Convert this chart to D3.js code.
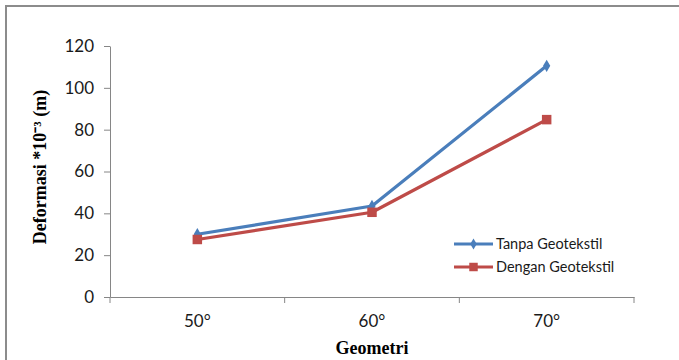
<!DOCTYPE html>
<html>
<head>
<meta charset="utf-8">
<script src="https://cdn.jsdelivr.net/npm/d3@7/dist/d3.min.js"></script>
<style>
  html, body { margin: 0; padding: 0; background: #fff; }
  svg { display: block; }
</style>
</head>
<body>
<svg id="chart" width="679" height="360"></svg>
<script>
// Deformation versus slope geometry, with and without geotextile
const categories = ["50°", "60°", "70°"];
const tanpaGeotekstil = [30, 43.5, 110.5];
const denganGeotekstil = [27.5, 40.5, 84.8];
const yTicks = [0, 20, 40, 60, 80, 100, 120];
const seriesNames = ["Tanpa Geotekstil", "Dengan Geotekstil"];
const seriesColors = ["#4a7ebb", "#be4b48"];

const svg = d3.select("#chart");
const W = 679, H = 360;
const plot = { left: 110, right: 634, top: 46, bottom: 297 };

// outer frame (top and left edges)
svg.append("path")
  .attr("d", `M6,${H} L6,6 L${W},6`)
  .attr("fill", "none")
  .attr("stroke", "#8c8c8c")
  .attr("stroke-width", 2);

const x = d3.scaleBand().domain(categories).range([plot.left, plot.right]).padding(0);
const y = d3.scaleLinear().domain([0, 120]).range([plot.bottom, plot.top]);
const cx = c => x(c) + x.bandwidth() / 2;

const axisColor = "#868686";
const tickFont = "Lato, 'Open Sans', sans-serif";

// y axis
const yAxis = svg.append("g")
  .attr("transform", `translate(${plot.left},0)`)
  .call(d3.axisLeft(y).tickValues(yTicks).tickSize(6).tickSizeOuter(0).tickPadding(10));
yAxis.select(".domain").attr("stroke", axisColor);
yAxis.selectAll(".tick line").attr("stroke", axisColor);
yAxis.selectAll(".tick text")
  .attr("font-family", tickFont).attr("font-size", 17).attr("fill", "#1a1a1a");

// x axis: labels centred in bands, tick marks at band edges
const xAxis = svg.append("g")
  .attr("transform", `translate(0,${plot.bottom})`)
  .call(d3.axisBottom(x).tickSize(0).tickSizeOuter(0).tickPadding(18));
xAxis.select(".domain").attr("stroke", axisColor);
xAxis.selectAll(".tick text")
  .attr("font-family", tickFont).attr("font-size", 17).attr("fill", "#1a1a1a");
const edges = d3.range(categories.length + 1).map(i => x.range()[0] + i * x.step());
xAxis.selectAll("line.edge").data(edges).join("line")
  .attr("class", "edge")
  .attr("x1", d => d).attr("x2", d => d)
  .attr("y1", 0).attr("y2", 6)
  .attr("stroke", axisColor);

// axis titles
svg.append("text")
  .attr("x", cx("60°")).attr("y", 354)
  .attr("text-anchor", "middle")
  .attr("font-family", "'Liberation Serif', 'Times New Roman', serif")
  .attr("font-weight", "bold").attr("font-size", 18)
  .text("Geometri");

svg.append("text")
  .attr("transform", "translate(46,167) rotate(-90)")
  .attr("text-anchor", "middle")
  .attr("font-family", "'Liberation Serif', 'Times New Roman', serif")
  .attr("font-weight", "bold").attr("font-size", 18)
  .text("Deformasi *10⁻³ (m)");

// series
const series = [
  { name: seriesNames[0], values: tanpaGeotekstil, color: seriesColors[0], symbol: d3.symbolDiamond, size: 45 },
  { name: seriesNames[1], values: denganGeotekstil, color: seriesColors[1], symbol: d3.symbolSquare, size: 90 }
];

const line = d3.line().x((d, i) => cx(categories[i])).y(d => y(d));

series.forEach(s => {
  svg.append("path")
    .datum(s.values)
    .attr("d", line)
    .attr("fill", "none")
    .attr("stroke", s.color)
    .attr("stroke-width", 3.2)
    .attr("stroke-linejoin", "round");
  svg.selectAll(null).data(s.values).join("path")
    .attr("transform", (d, i) => `translate(${cx(categories[i])},${y(d)})`)
    .attr("d", d3.symbol().type(s.symbol).size(s.size))
    .attr("fill", s.color);
});

// legend
const legend = svg.append("g");
series.forEach((s, i) => {
  const ly = 244 + i * 23;
  legend.append("line")
    .attr("x1", 454).attr("x2", 493).attr("y1", ly).attr("y2", ly)
    .attr("stroke", s.color).attr("stroke-width", 3.2);
  legend.append("path")
    .attr("transform", `translate(473.5,${ly})`)
    .attr("d", d3.symbol().type(s.symbol).size(s.size * 0.8))
    .attr("fill", s.color);
  legend.append("text")
    .attr("x", 496).attr("y", ly)
    .attr("dy", "0.36em")
    .attr("font-family", tickFont).attr("font-size", 14.5).attr("fill", "#1a1a1a")
    .text(s.name);
});
</script>
</body>
</html>
